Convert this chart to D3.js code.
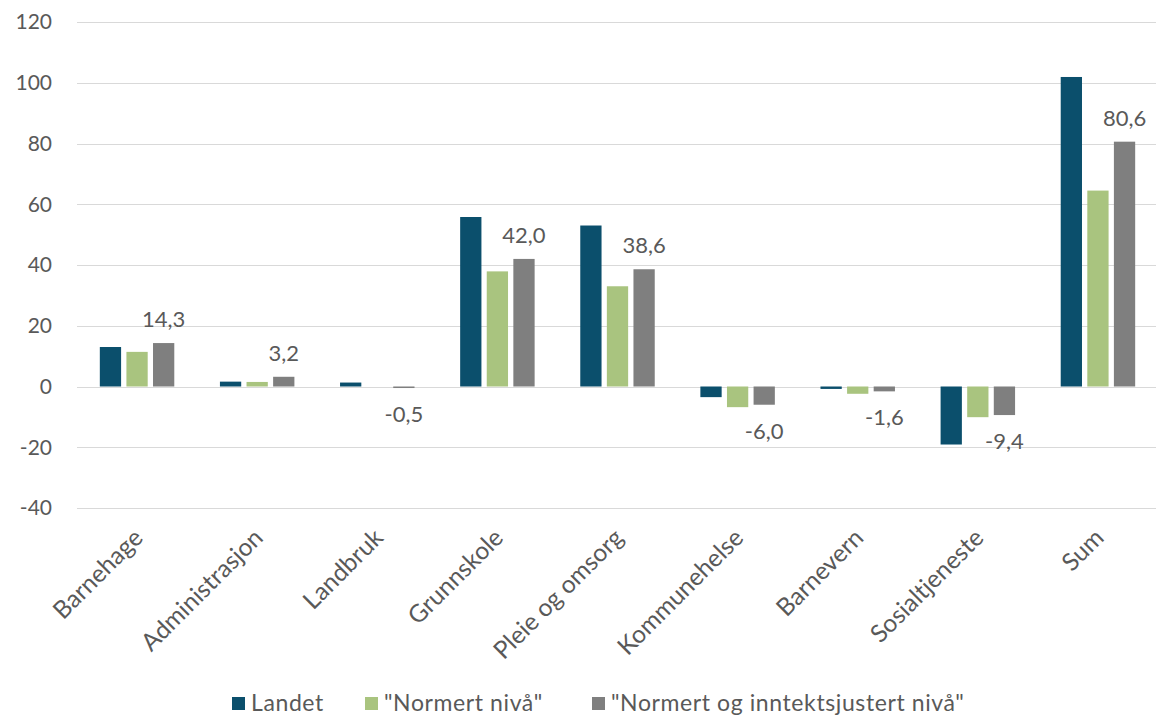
<!DOCTYPE html>
<html>
<head>
<meta charset="utf-8">
<script src="https://cdn.jsdelivr.net/npm/d3@7"></script>
<style>
  html, body { margin: 0; padding: 0; background: #fff; }
  svg { display: block; font-family: Lato, "Open Sans", sans-serif; }
</style>
</head>
<body>
<svg id="chart" width="1156" height="715"></svg>
<script>
const categories = ["Barnehage", "Administrasjon", "Landbruk", "Grunnskole", "Pleie og omsorg", "Kommunehelse", "Barnevern", "Sosialtjeneste", "Sum"];
const seriesNames = ["Landet", "\"Normert nivå\"", "\"Normert og inntektsjustert nivå\""];
const landet = [13.0, 1.6, 1.3, 55.8, 53.0, -3.5, -0.8, -19.1, 101.9];
const normert = [11.4, 1.5, 0.0, 37.9, 33.0, -6.8, -2.4, -10.1, 64.5];
const normertInntekt = [14.3, 3.2, -0.5, 42.0, 38.6, -6.0, -1.6, -9.4, 80.6];
const valueLabels = ["14,3", "3,2", "-0,5", "42,0", "38,6", "-6,0", "-1,6", "-9,4", "80,6"];
const yTicks = [-40, -20, 0, 20, 40, 60, 80, 100, 120];
const colors = ["#0b4f6c", "#a9c47f", "#7f7f7f"];

const seriesValues = [landet, normert, normertInntekt];
const svg = d3.select("#chart");
const textColor = "#595959";

const y = d3.scaleLinear().domain([-40, 120]).range([508, 22]);
const x0 = d3.scaleBand().domain(categories).range([77, 1158]).paddingInner(0.38).paddingOuter(0.19);
const x1 = d3.scaleBand().domain(d3.range(3)).range([0, x0.bandwidth()]).paddingInner(0.2);

// gridlines
svg.append("g").selectAll("line").data(yTicks).join("line")
  .attr("x1", 77).attr("x2", 1156)
  .attr("y1", d => Math.round(y(d)) + 0.5).attr("y2", d => Math.round(y(d)) + 0.5)
  .attr("stroke", "#d9d9d9").attr("stroke-width", 1);

// y tick labels
svg.append("g").selectAll("text").data(yTicks).join("text")
  .attr("x", 52).attr("y", d => y(d)).attr("dy", "0.35em")
  .attr("text-anchor", "end").attr("fill", textColor)
  .attr("font-size", 21).text(d => d);

// bars
const groups = svg.append("g").selectAll("g").data(categories).join("g")
  .attr("transform", d => `translate(${x0(d)},0)`);
groups.selectAll("rect").data((c, i) => seriesValues.map((s, k) => ({k, v: s[i]}))).join("rect")
  .attr("x", d => x1(d.k)).attr("width", x1.bandwidth())
  .attr("y", d => y(Math.max(0, d.v)))
  .attr("height", d => Math.abs(y(d.v) - y(0)))
  .attr("fill", d => colors[d.k]);

// value labels for third series
svg.append("g").selectAll("text").data(categories).join("text")
  .attr("x", (c) => x0(c) + x1(2) + x1.bandwidth() / 2)
  .attr("y", (c, i) => normertInntekt[i] >= 0 ? y(normertInntekt[i]) - 16 : y(normertInntekt[i]) + 34)
  .attr("text-anchor", "middle").attr("fill", textColor)
  .attr("font-size", 22).text((c, i) => valueLabels[i]);

// x labels
svg.append("g").selectAll("text").data(categories).join("text")
  .attr("transform", c => `translate(${x0(c) + x0.bandwidth() / 2 - 5},${527}) rotate(-45)`)
  .attr("text-anchor", "end").attr("dy", "0.71em").attr("fill", textColor)
  .attr("font-size", 24.5).text(c => c);

// legend
const legendItems = [
  {x: 232, name: seriesNames[0], color: colors[0]},
  {x: 365, name: seriesNames[1], color: colors[1]},
  {x: 592, name: seriesNames[2], color: colors[2]}
];
const lg = svg.append("g").selectAll("g").data(legendItems).join("g")
  .attr("transform", d => `translate(${d.x},0)`);
lg.append("rect").attr("x", 0).attr("y", 697).attr("width", 13).attr("height", 13).attr("fill", d => d.color);
lg.append("text").attr("x", 19).attr("y", 711).attr("fill", textColor)
  .attr("font-size", 23).attr("letter-spacing", 0.6).text(d => d.name);
</script>
</body>
</html>
